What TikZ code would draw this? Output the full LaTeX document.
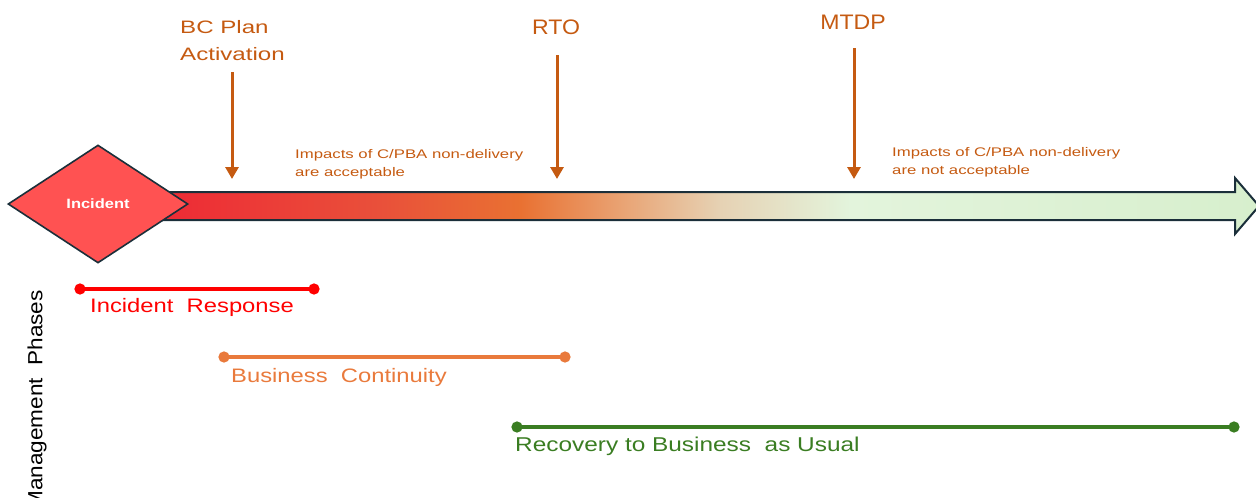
\documentclass[tikz,border=0pt]{standalone}
\usepackage{fontspec}
\setmainfont{Liberation Sans}
\newfontfamily\fwide[FakeStretch=1.34]{Liberation Sans}
\newfontfamily\fmid[FakeStretch=1.22]{Liberation Sans}
\newfontfamily\fnar[FakeStretch=1.1]{Liberation Sans}
\usetikzlibrary{shapes.geometric,arrows.meta}
\definecolor{lbl}{HTML}{C55A11}
\definecolor{irred}{HTML}{FF0000}
\definecolor{bcor}{HTML}{E97A3C}
\definecolor{recg}{HTML}{3A7D22}
\definecolor{dia}{HTML}{FF5252}
\definecolor{edge}{HTML}{1B2F3A}
\definecolor{g1}{HTML}{EE2A35}
\definecolor{g2}{HTML}{E9503A}
\definecolor{g3}{HTML}{E97132}
\definecolor{g4}{HTML}{E9A272}
\definecolor{g5}{HTML}{E6D2B4}
\definecolor{g6}{HTML}{E3F4DC}
\definecolor{g7}{HTML}{D7EFCD}
\pgfdeclarehorizontalshading{bar}{100bp}{
  color(0bp)=(g1); color(25bp)=(g1); color(35bp)=(g2); color(41.4bp)=(g3);
  color(45.9bp)=(g4); color(50.5bp)=(g5); color(56.4bp)=(g6); color(75bp)=(g7); color(100bp)=(g7)}
\tikzset{
  x=1pt, y=-1pt,
  marker/.style={draw=lbl, line width=3pt, -{Triangle[length=12pt,width=13pt]}},
  marklabel/.style={text=lbl, inner sep=0pt},
  phase/.style={line width=3.5pt, shorten <=-5.5pt, shorten >=-5.5pt, {Circle[length=11pt]}-{Circle[length=11pt]}},
  phaselabel/.style={inner sep=0pt, anchor=west, font=\fmid\fontsize{19.5}{22}\selectfont},
  impact/.style={text=lbl, inner sep=0pt, anchor=west, align=left, font=\fwide\fontsize{12.5}{18}\selectfont}
}
\begin{document}
\begin{tikzpicture}
\useasboundingbox (0,0) rectangle (1256,498);
% main arrow
\path[shading=bar, draw=edge, line width=2pt, line join=miter]
  (160,192) -- (1235,192) -- (1235,178) -- (1259,206) -- (1235,234) -- (1235,220) -- (160,220) -- cycle;
% diamond
\node[diamond, draw=edge, line width=1.6pt, fill=dia, minimum width=180pt, minimum height=118pt, inner sep=0pt,
  text=white, font=\fmid\bfseries\fontsize{13.5}{16}\selectfont] (inc) at (98,204) {Incident};
% top labels and markers
\node[marklabel, anchor=west, align=left, font=\fwide\fontsize{18}{27}\selectfont] (bcp) at (180,40.5) {BC Plan\\Activation};
\node[marklabel, font=\fnar\fontsize{21}{24}\selectfont] (rto) at (556,27) {RTO};
\node[marklabel, font=\fnar\fontsize{21}{24}\selectfont] (mtdp) at (853,22) {MTDP};
\coordinate (bcpA) at (232,72);  \coordinate (bcpB) at (232,179);
\coordinate (rtoA) at (557,55);  \coordinate (rtoB) at (557,179);
\coordinate (mtdpA) at (854,48); \coordinate (mtdpB) at (854,179);
\draw[marker] (bcpA) -- (bcpB);
\draw[marker] (rtoA) -- (rtoB);
\draw[marker] (mtdpA) -- (mtdpB);
% impact texts
\node[impact] (imp1) at (295,164) {Impacts of C/PBA non-delivery\\are acceptable};
\node[impact] (imp2) at (892,162) {Impacts of C/PBA non-delivery\\are not acceptable};
% phases
\node[rotate=90, anchor=east, inner sep=0pt, font=\fnar\fontsize{20.5}{22}\selectfont] (mp) at (37,290) {Management\ \ Phases};
\coordinate (irA) at (80,289);  \coordinate (irB) at (314,289);
\coordinate (bcA) at (224,357); \coordinate (bcB) at (565,357);
\coordinate (rcA) at (517,427); \coordinate (rcB) at (1234,427);
\draw[phase, draw=irred, fill=irred] (irA) -- (irB);
\draw[phase, draw=bcor, fill=bcor] (bcA) -- (bcB);
\draw[phase, draw=recg, fill=recg] (rcA) -- (rcB);
\node[phaselabel, text=irred] (irl) at (90,307) {Incident\ \ Response};
\node[phaselabel, text=bcor] (bcl) at (231,377) {Business\ \ Continuity};
\node[phaselabel, text=recg, font=\fmid\fontsize{20}{22}\selectfont] (rcl) at (515,446) {Recovery\ to\ Business\ \ as\ Usual};
\end{tikzpicture}
\end{document}
